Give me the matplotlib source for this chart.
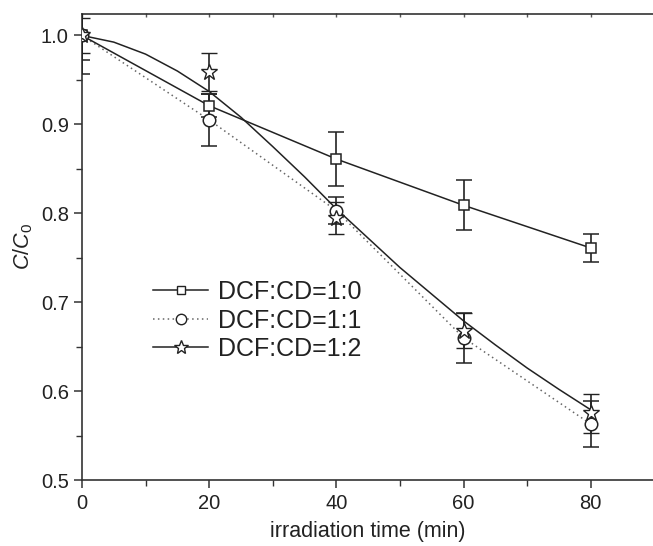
import matplotlib
matplotlib.use("Agg")
import matplotlib.pyplot as plt
from matplotlib.lines import Line2D
from matplotlib.ticker import MultipleLocator

plt.rcParams['font.family'] = ['Liberation Sans', 'DejaVu Sans']
plt.rcParams['mathtext.fontset'] = 'custom'
plt.rcParams['mathtext.it'] = 'Liberation Sans:italic'
plt.rcParams['mathtext.rm'] = 'Liberation Sans'

time = [0, 20, 40, 60, 80]
labels = ["DCF:CD=1:0", "DCF:CD=1:1", "DCF:CD=1:2"]

sq_vals = [1.0, 0.921, 0.861, 0.809, 0.761]
sq_err = [0.028, 0.013, 0.030, 0.028, 0.016]

ci_vals = [1.0, 0.905, 0.803, 0.660, 0.563]
ci_err = [0.043, 0.029, 0.015, 0.028, 0.026]

st_vals = [1.0, 0.959, 0.795, 0.668, 0.575]
st_err = [0.020, 0.021, 0.018, 0.020, 0.022]

# fitted curve for the 1:2 series
fit_t = [0, 5, 10, 15, 20, 25, 30, 35, 40, 45, 50, 55, 60, 65, 70, 75, 80]
fit_v = [1.0, 0.9925, 0.979, 0.960, 0.937, 0.908, 0.875, 0.841, 0.805,
         0.772, 0.739, 0.709, 0.679, 0.652, 0.626, 0.602, 0.579]

W, H = 653, 546
fig = plt.figure(figsize=(W / 100, H / 100), dpi=100)
ax = fig.add_axes([82 / W, (H - 480) / H, (W - 82) / W, (480 - 13.5) / H])

lc = '#222222'
ekw = dict(ecolor=lc, elinewidth=1.2, capsize=6, capthick=1.2)

ax.errorbar(time, sq_vals, yerr=sq_err, fmt='-s', color=lc, lw=1.1,
            ms=7.5, mfc='white', mec=lc, mew=1.1, zorder=3, **ekw)
ax.errorbar(time, ci_vals, yerr=ci_err, fmt='o', color=lc,
            ms=9, mfc='white', mec=lc, mew=1.1, zorder=3, **ekw)
ax.plot(time, ci_vals, ls=(0, (1, 2.2)), color='#666666', lw=1.1, zorder=2)
ax.errorbar(time, st_vals, yerr=st_err, fmt='*', color=lc,
            ms=12, mfc='white', mec=lc, mew=1.0, zorder=3, **ekw)
ax.plot(fit_t, fit_v, '-', color=lc, lw=1.1, zorder=2)

ax.set_xlim(0, 89.8)
ax.set_ylim(0.5, 1.0247)

ax.spines['right'].set_visible(False)
for s in ['left', 'bottom', 'top']:
    ax.spines[s].set_linewidth(1.2)
    ax.spines[s].set_color('#333333')

ax.xaxis.set_major_locator(MultipleLocator(20))
ax.xaxis.set_minor_locator(MultipleLocator(10))
ax.yaxis.set_major_locator(MultipleLocator(0.1))
ax.yaxis.set_minor_locator(MultipleLocator(0.05))
ax.tick_params(which='major', direction='out', length=6, width=1.1,
               labelsize=14.5, colors='#333333', labelcolor='#222222')
ax.tick_params(which='minor', direction='out', length=4, width=1.0, colors='#333333')
ax.tick_params(axis='x', which='major', pad=4)

# top axis ticks (inward, short)
top = ax.secondary_xaxis('top')
top.xaxis.set_major_locator(MultipleLocator(10))
top.tick_params(direction='in', length=3, width=1.0, labeltop=False, colors='#555555')
top.spines['top'].set_visible(False)

ax.yaxis.set_major_formatter(matplotlib.ticker.FormatStrFormatter('%.1f'))

ax.set_xlabel('irradiation time (min)', fontsize=15.5, color='#222222', labelpad=6)
ax.set_ylabel(r'$\mathit{C/C_0}$', fontsize=15.5, color='#222222', labelpad=4)

handles = [
    Line2D([], [], color=lc, lw=1.1, marker='s', ms=6, mfc='white', mec=lc),
    Line2D([], [], color='#666666', lw=1.1, ls=(0, (1, 2.2)), marker='o', ms=7.5,
           mfc='white', mec=lc),
    Line2D([], [], color=lc, lw=1.1, marker='*', ms=10, mfc='white', mec=lc),
]
leg = ax.legend(handles, labels, loc='upper left',
                bbox_to_anchor=(153 / W, 1 - 280 / H), bbox_transform=fig.transFigure,
                frameon=False, fontsize=18, handlelength=2.2, handletextpad=0.4,
                labelspacing=0.18, borderpad=0, borderaxespad=0)
for t in leg.get_texts():
    t.set_color('#222222')

fig.savefig('out.png', dpi=100)
